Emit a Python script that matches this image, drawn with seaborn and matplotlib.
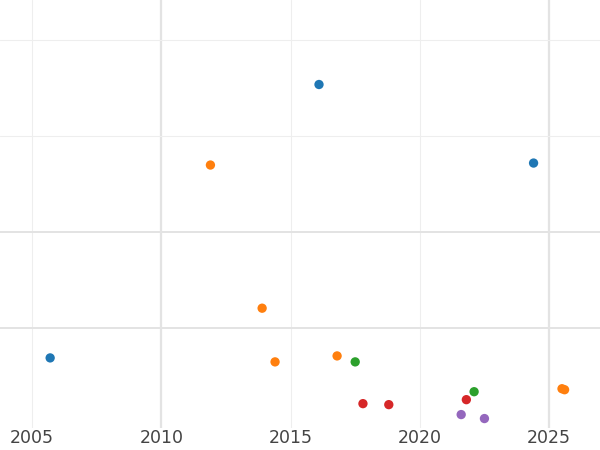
import numpy as np
import pandas as pd
import matplotlib
matplotlib.use("Agg")
import matplotlib.pyplot as plt
import seaborn as sns

# values (y has no labels in the reference)
years = [2016.1, 2024.4, 2005.7,
         2011.9, 2013.9, 2014.4, 2016.8, 2025.5, 2025.6,
         2017.5, 2022.1,
         2017.8, 2018.8, 2021.8,
         2021.6, 2022.5]
values = [34.5, 26.6, 7.0,
          26.4, 12.0, 6.6, 7.2, 3.9, 3.8,
          6.6, 3.6,
          2.4, 2.3, 2.8,
          1.3, 0.9]
groups = ["a"] * 3 + ["b"] * 6 + ["c"] * 2 + ["d"] * 3 + ["e"] * 2
colors = ["#1f77b4", "#ff7f0e", "#2ca02c", "#d62728", "#9467bd"]

df = pd.DataFrame({"year": years, "value": values, "group": groups})

sns.set_style("white")
fig = plt.figure(figsize=(6, 4.5), dpi=100)
ax = fig.add_axes([0, 0.05, 1, 0.95])

for x in [2005, 2015, 2020]:
    ax.axvline(x, color="#eeeeee", lw=0.8, zorder=0)
for x in [2010, 2025]:
    ax.axvline(x, color="#e3e3e3", lw=1.6, zorder=0)
for y in [39.0, 29.3]:
    ax.axhline(y, color="#eeeeee", lw=0.8, zorder=0)
for y in [19.7, 10.0]:
    ax.axhline(y, color="#e3e3e3", lw=1.4, zorder=0)

sns.scatterplot(data=df, x="year", y="value", hue="group", palette=colors,
                s=45, edgecolor="none", legend=False, ax=ax, zorder=3)

ax.set_xlim(2003.76, 2026.97)
ax.set_ylim(0, 43)
ax.set_xticks([2005, 2010, 2015, 2020, 2025])
ax.set_yticks([])
ax.set_xlabel("")
ax.set_ylabel("")
ax.tick_params(axis="x", length=0, labelsize=12.5, colors="#444444", pad=1)
for s in ax.spines.values():
    s.set_visible(False)

fig.savefig("out.png", dpi=100)
